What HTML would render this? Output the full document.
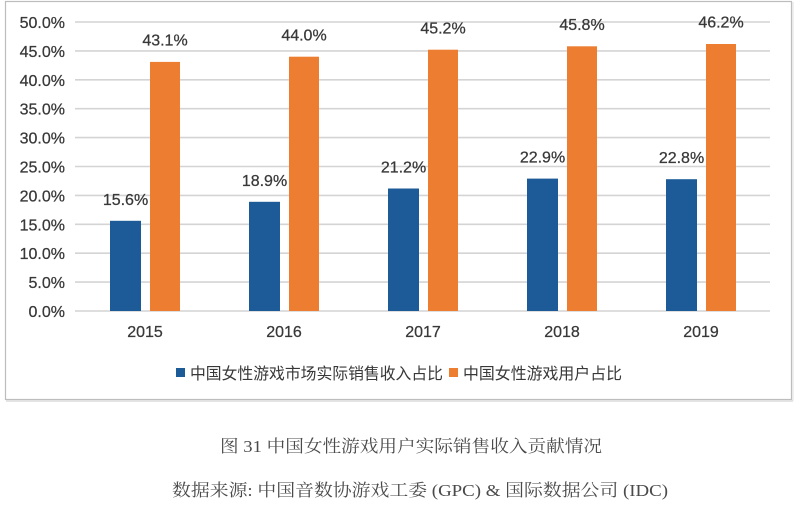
<!DOCTYPE html>
<html><head><meta charset="utf-8"><style>
html,body{margin:0;padding:0;background:#fff;}
svg{display:block;}
</style></head><body>
<svg width="800" height="514" viewBox="0 0 800 514" xmlns="http://www.w3.org/2000/svg">
<rect x="0" y="0" width="800" height="514" fill="#ffffff"/>
<!-- frame -->
<rect x="5.5" y="1.5" width="786" height="398" fill="#ffffff" stroke="#bdbdbd" stroke-width="1.2"/>
<line x1="6" y1="401" x2="793" y2="401" stroke="#dcdcdc" stroke-width="1.5"/>
<line x1="793" y1="2" x2="793" y2="401" stroke="#e2e2e2" stroke-width="1"/>
<!-- gridlines -->
<g stroke="#d4d4d4" stroke-width="1.6">
<line x1="75" y1="22" x2="770" y2="22"/>
<line x1="75" y1="50.9" x2="770" y2="50.9"/>
<line x1="75" y1="79.8" x2="770" y2="79.8"/>
<line x1="75" y1="108.7" x2="770" y2="108.7"/>
<line x1="75" y1="137.6" x2="770" y2="137.6"/>
<line x1="75" y1="166.5" x2="770" y2="166.5"/>
<line x1="75" y1="195.4" x2="770" y2="195.4"/>
<line x1="75" y1="224.3" x2="770" y2="224.3"/>
<line x1="75" y1="253.2" x2="770" y2="253.2"/>
<line x1="75" y1="282.1" x2="770" y2="282.1"/>
<line x1="75" y1="311" x2="770" y2="311"/>
</g>
<!-- y labels -->
<g font-family="Liberation Sans, sans-serif" font-size="16" fill="#383838" stroke="#383838" stroke-width="0.25" text-anchor="end">
<text x="65" y="28">50.0%</text>
<text x="65" y="56.9">45.0%</text>
<text x="65" y="85.8">40.0%</text>
<text x="65" y="114.7">35.0%</text>
<text x="65" y="143.6">30.0%</text>
<text x="65" y="172.5">25.0%</text>
<text x="65" y="201.4">20.0%</text>
<text x="65" y="230.3">15.0%</text>
<text x="65" y="259.2">10.0%</text>
<text x="65" y="288.1">5.0%</text>
<text x="65" y="317">0.0%</text>
</g>
<!-- bars -->
<g fill="#1c5b97">
<rect x="110" y="220.8" width="31" height="90.2"/>
<rect x="249" y="201.8" width="31" height="109.2"/>
<rect x="388" y="188.5" width="31" height="122.5"/>
<rect x="527" y="178.6" width="31" height="132.4"/>
<rect x="666" y="179.2" width="31" height="131.8"/>
</g>
<g fill="#ed7d31">
<rect x="150" y="61.9" width="30" height="249.1"/>
<rect x="289" y="56.7" width="30" height="254.3"/>
<rect x="428" y="49.7" width="30" height="261.3"/>
<rect x="567" y="46.3" width="30" height="264.7"/>
<rect x="706" y="44" width="30" height="267"/>
</g>
<!-- value labels -->
<g font-family="Liberation Sans, sans-serif" font-size="16" fill="#383838" stroke="#383838" stroke-width="0.25" text-anchor="middle">
<text x="125.5" y="205">15.6%</text>
<text x="264.5" y="186">18.9%</text>
<text x="403.5" y="172.5">21.2%</text>
<text x="542.5" y="162.6">22.9%</text>
<text x="681.5" y="163.2">22.8%</text>
<text x="165" y="45.5">43.1%</text>
<text x="304" y="40.3">44.0%</text>
<text x="443" y="33.3">45.2%</text>
<text x="582" y="29.9">45.8%</text>
<text x="721" y="27.6">46.2%</text>
</g>
<!-- category labels -->
<g font-family="Liberation Sans, sans-serif" font-size="16" fill="#383838" stroke="#383838" stroke-width="0.25" text-anchor="middle">
<text x="145" y="337">2015</text>
<text x="284" y="337">2016</text>
<text x="423" y="337">2017</text>
<text x="562" y="337">2018</text>
<text x="701" y="337">2019</text>
</g>
<!-- legend -->
<rect x="176" y="368" width="9" height="9" fill="#1c5b97"/>
<text x="190" y="379" font-family="Liberation Sans, 'Noto Sans CJK SC', sans-serif" font-size="16" fill="#383838" textLength="253" lengthAdjust="spacingAndGlyphs">中国女性游戏市场实际销售收入占比</text>
<rect x="449" y="368" width="9" height="9" fill="#ed7d31"/>
<text x="463" y="379" font-family="Liberation Sans, 'Noto Sans CJK SC', sans-serif" font-size="16" fill="#383838" textLength="159" lengthAdjust="spacingAndGlyphs">中国女性游戏用户占比</text>
<!-- caption -->
<text x="220" y="452" font-family="Liberation Serif, 'Noto Serif CJK SC', serif" font-size="17" fill="#4a4a4a" textLength="382" lengthAdjust="spacingAndGlyphs">图 31  中国女性游戏用户实际销售收入贡献情况</text>
<text x="172" y="496" font-family="Liberation Serif, 'Noto Serif CJK SC', serif" font-size="17" fill="#4a4a4a" textLength="496" lengthAdjust="spacingAndGlyphs">数据来源: 中国音数协游戏工委 (GPC) &amp; 国际数据公司 (IDC)</text>
</svg>
</body></html>
